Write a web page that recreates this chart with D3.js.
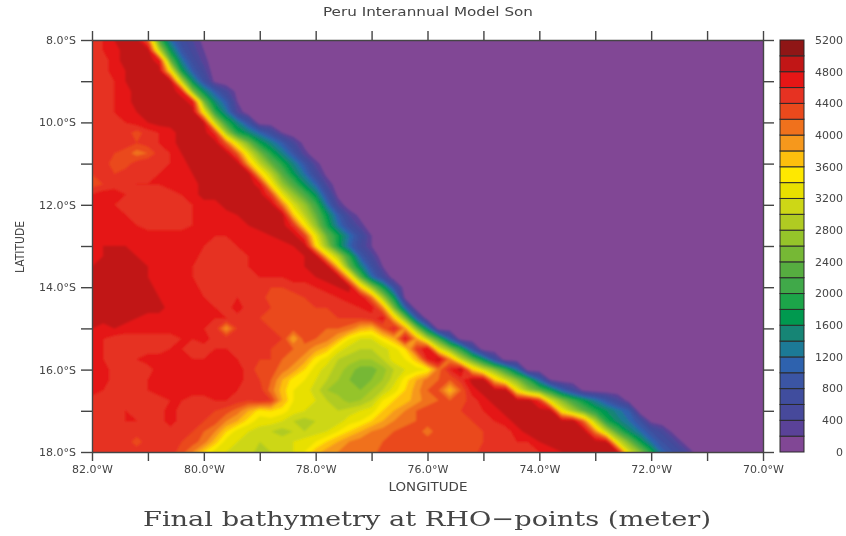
<!DOCTYPE html>
<html><head><meta charset="utf-8">
<script src="https://cdn.jsdelivr.net/npm/d3@7"></script>
<style>html,body{margin:0;padding:0;background:#fff}svg{display:block}</style>
</head><body><svg id="c" width="846" height="536"></svg>
<script>
const chartTitle = "Peru Interannual Model Son";
const caption = "Final bathymetry at RHO\u2212points (meter)";
const xAxisTitle = "LONGITUDE";
const yAxisTitle = "LATITUDE";
const lonTicks = [-82,-81,-80,-79,-78,-77,-76,-75,-74,-73,-72,-71,-70];
const latTicks = [-8,-9,-10,-11,-12,-13,-14,-15,-16,-17,-18];
const levels = d3.range(0, 5201, 200);
const levelColors = ["#814795","#5a4398","#464a9b","#3f4e9e","#3a54a4","#2f62ae","#1f7a96","#148574","#00994f","#1aa548","#3fa948","#57ad40","#76b836","#95c42c","#b0cb22","#cdd718","#e8e000","#fee800","#fdbf0e","#f6981c","#f0711d","#ea4a1e","#e63022","#e51515","#c11717","#8f1414"];
const lonStart = -82, lonStep = 0.2, lonCount = 61;
const latStart = -8, latStep = -0.25;
// depth in hundreds of metres; one row per latitude from 8S to 18S, columns from 82W eastward, trailing zeros omitted
const depthRows = [
[45,46,48,49,49,42,22,12,7,4,1],
[45,46,47,49,49,49,30,17,9,5,2],
[45,45,47,49,49,49,47,24,13,7,3],
[45,45,47,48,49,49,49,35,18,10,5],
[45,44,46,48,49,49,49,49,30,16,8,1],
[45,45,46,47,49,49,49,49,47,26,16,10,5,1],
[45,45,46,47,49,49,49,49,49,47,25,15,10,2],
[45,45,46,47,48,49,49,49,49,49,34,20,13,4],
[45,45,45,46,47,48,49,49,49,49,48,30,20,14,8],
[45,45,45,45,43,45,46,47,49,49,49,45,28,19,15,11,7,2],
[45,45,45,45,44,45,46,47,49,49,49,49,42,32,25,18,14,10,5,1],
[45,45,44,43,41,42,45,46,48,49,49,49,49,42,32,25,19,14,9,3],
[45,45,43,43,45,46,44,46,47,49,49,49,49,49,38,30,24,19,14,9,3],
[44,44,44,45,44,45,46,47,47,48,49,49,49,49,49,37,30,23,17,12,6,1],
[43,44,45,45,46,46,46,47,47,47,49,49,49,49,49,47,35,27,22,16,11,4],
[46,47,47,46,45,45,45,45,46,47,49,49,49,49,49,49,44,33,27,22,16,8,1],
[47,47,46,45,45,45,45,45,45,46,47,47,49,49,49,49,49,41,32,27,21,12,4],
[47,47,47,46,45,45,45,45,45,46,47,47,47,48,49,49,49,49,37,30,24,17,10,4,1],
[47,47,47,47,46,45,45,45,45,46,47,47,47,47,48,49,49,49,45,35,27,19,12,7,3],
[47,47,47,47,47,47,47,47,47,47,47,46,46,47,47,47,48,49,49,44,33,24,18,12,7,2],
[47,48,48,48,47,47,47,47,47,47,46,45,45,46,47,47,47,47,48,49,36,27,18,11,6,2],
[47,48,49,49,48,47,47,47,47,47,45,45,45,45,46,47,47,47,47,48,49,37,29,20,10,5],
[48,49,49,49,49,48,47,47,47,46,45,45,45,45,46,47,47,47,47,48,49,49,37,24,15,8,2],
[49,49,49,49,49,48,47,47,47,46,45,45,44,45,45,46,46,46,47,47,48,49,49,37,23,12,6],
[49,49,49,49,49,49,47,47,47,47,45,45,45,45,45,45,44,44,45,45,46,47,48,49,37,27,18,8],
[49,49,49,49,49,49,48,47,47,47,46,45,45,46,45,45,43,43,43,44,45,45,46,47,48,41,28,17,1],
[49,49,49,49,49,49,49,47,47,47,46,46,45,47,45,44,44,43,43,43,44,44,45,45,46,47,40,25,11],
[49,49,49,49,48,47,47,47,47,47,47,46,46,45,45,44,43,43,43,43,43,43,44,44,44,45,47,37,25,10],
[48,47,48,47,47,47,47,47,46,46,46,45,39,44,45,44,44,43,43,43,43,42,42,41,38,37,42,46,39,26,14],
[47,46,45,45,45,45,45,45,46,46,47,45,45,45,45,44,44,44,38,43,42,41,38,34,32,32,35,38,47,39,29,21,10],
[47,46,45,45,45,45,45,46,46,45,45,46,46,44,44,44,44,43,42,41,39,37,33,31,30,30,31,33,36,44,48,33,26,19,8],
[47,46,45,45,46,47,47,47,46,46,46,46,46,46,45,44,44,42,41,39,35,33,30,29,28,28,30,33,34,37,46,49,40,30,23,16,7],
[47,47,45,45,45,45,47,47,47,47,47,47,47,47,45,43,43,41,39,36,33,31,29,27,25,25,27,30,32,33,34,41,46,49,37,31,26,20,12],
[47,47,45,45,45,46,47,47,47,47,47,47,47,47,45,44,42,38,35,34,32,30,28,26,25,26,28,31,35,38,41,42,42,45,49,49,37,31,26,20,11,2],
[47,46,45,45,45,46,47,47,46,47,47,47,47,46,45,45,41,37,34,33,31,28,27,26,26,28,30,33,36,39,42,42,37,42,47,49,49,49,34,27,23,18,11,6,1],
[45,45,45,45,45,45,45,46,46,45,45,46,46,45,44,45,44,38,34,33,32,30,29,27,28,30,34,36,37,39,41,42,42,43,45,47,49,49,49,49,45,32,26,21,17,13,9,5,1],
[45,45,45,46,45,45,45,47,45,45,44,44,43,41,38,35,36,35,33,32,31,30,30,31,32,33,36,38,40,42,43,42,43,44,45,46,47,49,49,49,49,49,34,28,23,19,16,13,10],
[45,45,45,46,46,45,45,47,45,45,44,43,40,38,35,33,33,32,30,29,30,31,31,33,34,36,38,40,41,42,43,43,43,43,44,45,46,47,49,49,49,49,49,49,41,29,19,15,12,8,1],
[45,45,45,45,45,45,45,45,45,44,42,40,36,33,32,31,30,29,30,30,31,32,34,36,38,40,41,42,43,43,41,43,43,43,43,44,45,45,47,49,49,49,49,49,49,40,30,22,16,12,8,5,1],
[45,45,45,45,43,45,45,45,44,43,41,37,33,32,31,30,30,31,32,33,34,36,38,40,41,41,42,42,43,43,43,43,43,43,43,44,45,45,46,46,48,49,49,49,49,49,48,32,25,18,12,8,5,1],
[45,45,45,45,45,45,45,45,43,40,36,33,32,31,31,29,30,31,32,34,37,39,40,41,41,41,43,43,43,43,43,43,43,43,43,45,45,45,45,45,46,47,48,49,49,49,49,48,32,26,19,11,8,5,1]
];

const margin = {left: 92, top: 40, right: 763, bottom: 452};
const barX = 780, barW = 24, tickColor = "#444";
const svg = d3.select("#c");
const x = d3.scaleLinear([lonTicks[0], lonTicks[lonTicks.length-1]], [margin.left, margin.right]);
const y = d3.scaleLinear([latTicks[0], latTicks[latTicks.length-1]], [margin.top, margin.bottom]);
const color = d3.scaleThreshold(levels.slice(1), levelColors);

const defs = svg.append("defs");
defs.append("clipPath").attr("id","plot").append("rect")
  .attr("x",margin.left).attr("y",margin.top)
  .attr("width",margin.right-margin.left).attr("height",margin.bottom-margin.top);
const blur = defs.append("filter").attr("id","soft").attr("x","-5%").attr("y","-5%").attr("width","110%").attr("height","110%");
blur.append("feGaussianBlur").attr("stdDeviation",0.8);
const blurText = defs.append("filter").attr("id","softText");
blurText.append("feGaussianBlur").attr("stdDeviation",0.3);

const nRows = depthRows.length;
const values = [];
depthRows.forEach(r => { for (let i=0;i<lonCount;i++) values.push((i<r.length? r[i]:0)*100); });
const contours = d3.contours().size([lonCount, nRows]).thresholds(levels.slice(0,-1))(values);
const project = d3.geoTransform({point(cx, cy){
  this.stream.point(x(lonStart + (cx-0.5)*lonStep), y(latStart + (cy-0.5)*latStep));
}});
const path = d3.geoPath(project);
const plot = svg.append("g").attr("clip-path","url(#plot)").append("g").attr("filter","url(#soft)");
plot.append("rect").attr("x",margin.left-6).attr("y",margin.top-6)
  .attr("width",margin.right-margin.left+12).attr("height",margin.bottom-margin.top+12).attr("fill",levelColors[0]);
plot.selectAll("path").data(contours).join("path")
  .attr("d",path).attr("fill",d=>color(d.value)).attr("stroke",d=>color(d.value)).attr("stroke-width",0.3);

const font = "'DejaVu Sans', sans-serif";
const ink = svg.append("g").attr("filter","url(#softText)");
function styleAxis(g){
  g.select(".domain").attr("stroke",tickColor).attr("stroke-width",1.4);
  g.selectAll(".tick line").attr("stroke",tickColor).attr("stroke-width",1.4);
  g.selectAll("text").attr("font-family",font).attr("font-size",11).attr("fill",tickColor);
}
const lonLabel = d => (d%2===0) ? Math.abs(d).toFixed(1)+"\u00B0W" : "";
const latLabel = d => (d%2===0) ? Math.abs(d).toFixed(1)+"\u00B0S" : "";
ink.append("g").attr("transform",`translate(0,${margin.bottom})`)
  .call(d3.axisBottom(x).tickValues(lonTicks).tickFormat(lonLabel).tickSize(9).tickSizeOuter(0).tickPadding(4)).call(styleAxis);
ink.append("g").attr("transform",`translate(0,${margin.top})`)
  .call(d3.axisTop(x).tickValues(lonTicks).tickFormat("").tickSize(9).tickSizeOuter(0)).call(styleAxis);
ink.append("g").attr("transform",`translate(${margin.left},0)`)
  .call(d3.axisLeft(y).tickValues(latTicks).tickFormat(latLabel).tickSize(11).tickSizeOuter(0).tickPadding(5)).call(styleAxis);
ink.append("g").attr("transform",`translate(${margin.right},0)`)
  .call(d3.axisRight(y).tickValues(latTicks).tickFormat("").tickSize(11).tickSizeOuter(0)).call(styleAxis);

const barY = d3.scaleLinear([0, 5200], [margin.bottom, margin.top]);
ink.append("g").selectAll("rect").data(levelColors).join("rect")
  .attr("x",barX).attr("width",barW)
  .attr("y",(d,i)=>barY(levels[i+1])).attr("height",(d,i)=>barY(levels[i])-barY(levels[i+1]))
  .attr("fill",d=>d).attr("stroke","#2b2b2b").attr("stroke-width",1);
ink.append("g").selectAll("text").data(levels.filter(d=>d%400===0)).join("text")
  .attr("x",843).attr("y",d=>barY(d)).attr("dy","0.35em").attr("text-anchor","end")
  .attr("font-family",font).attr("font-size",11).attr("fill",tickColor).text(d=>d);

ink.append("text").attr("x",428).attr("y",16).attr("text-anchor","middle")
  .attr("font-family",font).attr("font-size",11.5).attr("fill",tickColor)
  .attr("textLength",210).attr("lengthAdjust","spacingAndGlyphs").text(chartTitle);
ink.append("text").attr("x",428).attr("y",491).attr("text-anchor","middle")
  .attr("font-family",font).attr("font-size",11.5).attr("fill",tickColor)
  .attr("textLength",79).attr("lengthAdjust","spacingAndGlyphs").text(xAxisTitle);
ink.append("text").attr("transform","translate(24,247) rotate(-90)").attr("text-anchor","middle")
  .attr("font-family",font).attr("font-size",12.5).attr("fill",tickColor)
  .attr("textLength",52).attr("lengthAdjust","spacingAndGlyphs").text(yAxisTitle);
ink.append("text").attr("x",427).attr("y",526).attr("text-anchor","middle")
  .attr("font-family","'DejaVu Serif', serif").attr("font-size",21).attr("fill","#444")
  .attr("textLength",568).attr("lengthAdjust","spacingAndGlyphs").text(caption);
</script></body></html>
